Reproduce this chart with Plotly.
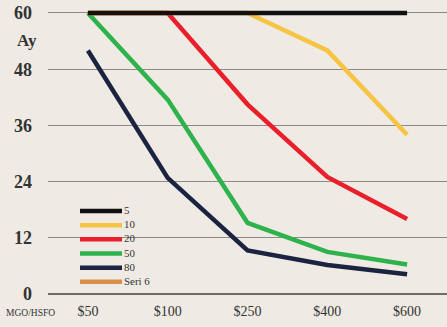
import plotly.graph_objects as go

categories = ["$50", "$100", "$250", "$400", "$600"]
series_names = ["5", "10", "20", "50", "80", "Seri 6"]
s5 = [60, 60, 60, 60, 60]
s10 = [60, 60, 60, 52, 34]
s20 = [60, 60, 40.5, 25, 16]
s50 = [60, 41.5, 15.2, 9, 6.3]
s80 = [52, 24.8, 9.3, 6.2, 4.2]
s6 = [None, None, None, None, None]
y_ticks = [0, 12, 24, 36, 48, 60]

colors = ["#111111", "#F6C342", "#E9202B", "#2EB24C", "#1A2340", "#D98F4C"]
values = [s5, s10, s20, s50, s80, s6]

BG = "#EFEBE4"
SERIF = "Liberation Serif, DejaVu Serif, serif"
W, H = 447, 327
ML, MR, MT, MB = 48, 0, 4, 33


def px_x(x):
    return (x - ML) / (W - ML - MR)


def px_y(y):
    return (H - MB - y) / (H - MT - MB)


fig = go.Figure()
for i in [5, 4, 3, 2, 1, 0]:
    fig.add_trace(go.Scatter(
        x=categories, y=values[i], name=series_names[i], mode="lines",
        line=dict(color=colors[i], width=4.5), showlegend=False,
    ))

# manual legend
LEG_FS = 10.9
step = LEG_FS * 1.3
top = 211
for k, c in enumerate(colors):
    ypix = top + k * step
    fig.add_shape(type="line", xref="paper", yref="paper",
                  x0=px_x(80), x1=px_x(122), y0=px_y(ypix), y1=px_y(ypix),
                  line=dict(color=c, width=4.5))
fig.add_annotation(text="<br>".join(series_names), xref="paper", yref="paper",
                   x=px_x(123), y=px_y(top - step / 2 - 0.5), xanchor="left", yanchor="top",
                   align="left", showarrow=False, borderpad=0,
                   font=dict(family=SERIF, size=LEG_FS, color="#333"))

fig.add_annotation(text="<b>Ay</b>", xref="paper", yref="paper",
                   x=px_x(27), y=px_y(40), xanchor="center", yanchor="middle",
                   showarrow=False, font=dict(family=SERIF, size=17, color="#333"))
fig.add_annotation(text="MGO/HSFO", xref="paper", yref="paper",
                   x=px_x(4), y=px_y(313), xanchor="left", yanchor="middle",
                   showarrow=False, font=dict(family=SERIF, size=9.5, color="#333"))

fig.update_layout(
    width=W, height=H,
    margin=dict(l=ML, r=MR, t=MT, b=MB),
    paper_bgcolor=BG, plot_bgcolor=BG,
    font=dict(family=SERIF, color="#333"),
    xaxis=dict(type="category", range=[-0.5, 4.5], showgrid=False, zeroline=False,
               showline=False, ticks="", ticklabelstandoff=7,
               tickfont=dict(family=SERIF, size=14, color="#333")),
    yaxis=dict(range=[0, 61.92], tickvals=y_ticks, ticktext=[f"<b>{v}</b>" for v in y_ticks],
               showgrid=True, gridcolor="#8C8A86", gridwidth=1.3, zeroline=True,
               zerolinecolor="#6E6C68", zerolinewidth=1.5, ticks="",
               tickfont=dict(family=SERIF, size=18, color="#333"), ticklabelstandoff=15),
)

fig.write_html("out.html")
